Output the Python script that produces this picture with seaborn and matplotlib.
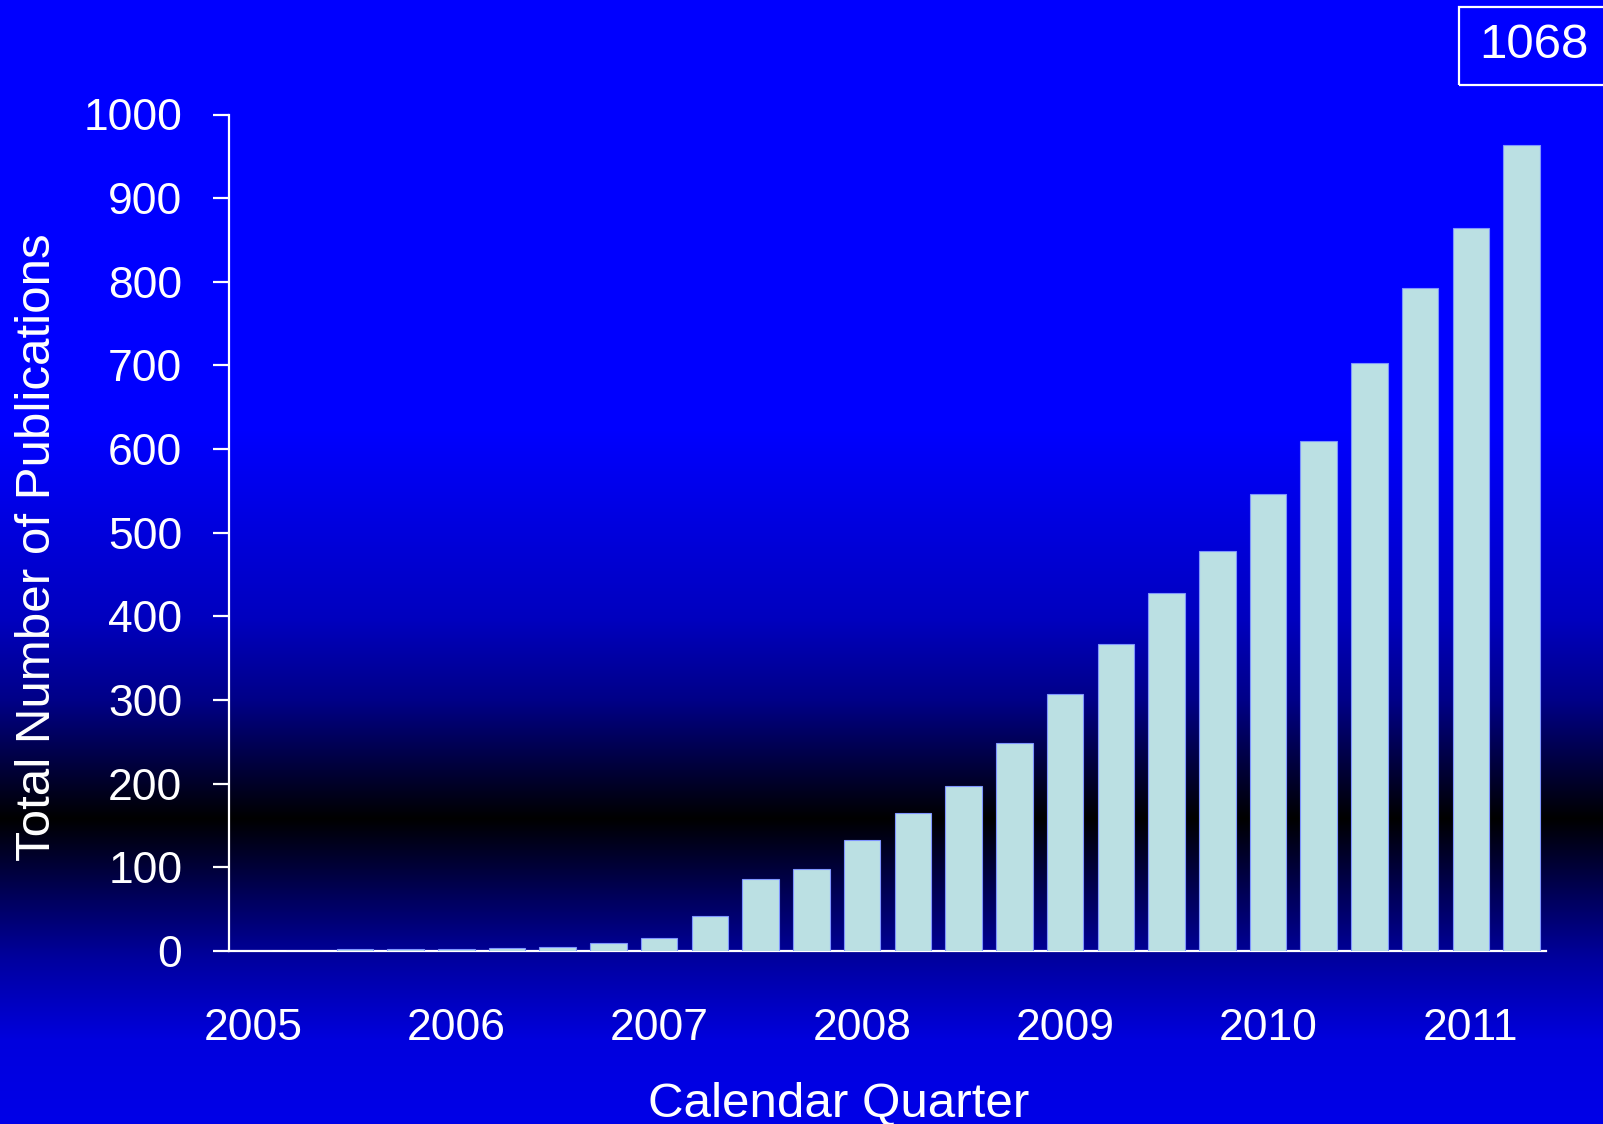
import numpy as np
import pandas as pd
import matplotlib
matplotlib.use("Agg")
import matplotlib.pyplot as plt
from matplotlib.patches import Rectangle
import seaborn as sns

# Cumulative publication counts per calendar quarter, 2005 Q1 - 2011 Q2
quarters = [f"{y} Q{q}" for y in range(2005, 2012) for q in range(1, 5)][:26]
publications = [0, 0, 2, 2, 2, 3, 5, 10,
                15, 42, 86, 98, 133, 165, 197, 249,
                307, 367, 428, 478, 546, 610, 703, 792,
                864, 964]
year_labels = ["2005", "2006", "2007", "2008", "2009", "2010", "2011"]
y_ticks = [0, 100, 200, 300, 400, 500, 600, 700, 800, 900, 1000]
total_label = "1068"

df = pd.DataFrame({"quarter": quarters, "count": publications})

sns.set_theme(style="white")
plt.rcParams["font.family"] = ["Liberation Sans", "DejaVu Sans"]

W, H, DPI = 1603, 1124, 100
fig = plt.figure(figsize=(W / DPI, H / DPI), dpi=DPI)

# Background: blue fading to black and back to blue
bg = fig.add_axes([0, 0, 1, 1], zorder=-10)
rows = np.arange(H)
stops_y = [0, 430, 620, 700, 818, 900, 960, 1040, 1124]
stops_b = [255, 255, 190, 135, 0, 95, 160, 222, 232]
blue = np.interp(rows, stops_y, stops_b) / 255.0
grad = np.zeros((H, 1, 3))
grad[:, 0, 2] = blue
bg.imshow(grad, aspect="auto", extent=[0, 1, 0, 1], origin="upper")
bg.set_axis_off()

ax = fig.add_axes([229 / W, 173 / H, (1546 - 229) / W, (951 - 114.5) / H])
ax.set_facecolor("none")
ax.set_axisbelow(True)
sns.barplot(data=df, x="quarter", y="count", color="#BBE0E3", saturation=1,
            width=0.72, edgecolor="#7f95ff", linewidth=0.8, ax=ax)

ax.set_xlim(-0.48, len(quarters) - 0.52)
ax.set_ylim(0, 1000)
ax.set_yticks(y_ticks)
ax.set_yticklabels([str(v) for v in y_ticks])
ax.set_xticks(range(0, len(quarters), 4))
ax.set_xticklabels(year_labels)
ax.set_xlabel("")
ax.set_ylabel("")

for side in ["top", "right"]:
    ax.spines[side].set_visible(False)
for side in ["left", "bottom"]:
    ax.spines[side].set_color("white")
    ax.spines[side].set_linewidth(1.6)
    ax.spines[side].set_zorder(0.5)

ax.tick_params(axis="y", colors="white", labelcolor="white", labelsize=32,
               length=11.5, width=1.6, pad=22, direction="out", left=True)
ax.tick_params(axis="x", colors="white", labelcolor="white", labelsize=32,
               length=0, pad=41)

fig.text(839 / W, 7 / H, "Calendar Quarter", color="white", fontsize=35.5,
         ha="center", va="baseline")
fig.text(38 / W, 577 / H, "Total Number of Publications", color="white",
         fontsize=35.5, rotation=90, ha="center", va="center")

# Boxed running total in the top-right corner
fig.patches.append(Rectangle((1459 / W, (H - 85) / H), 200 / W, 78 / H,
                             transform=fig.transFigure, fill=False,
                             edgecolor="white", linewidth=1.6))
fig.text(1534 / W, (H - 46) / H, total_label, color="white", fontsize=35.5,
         ha="center", va="center")

fig.savefig("out.png", dpi=DPI)
